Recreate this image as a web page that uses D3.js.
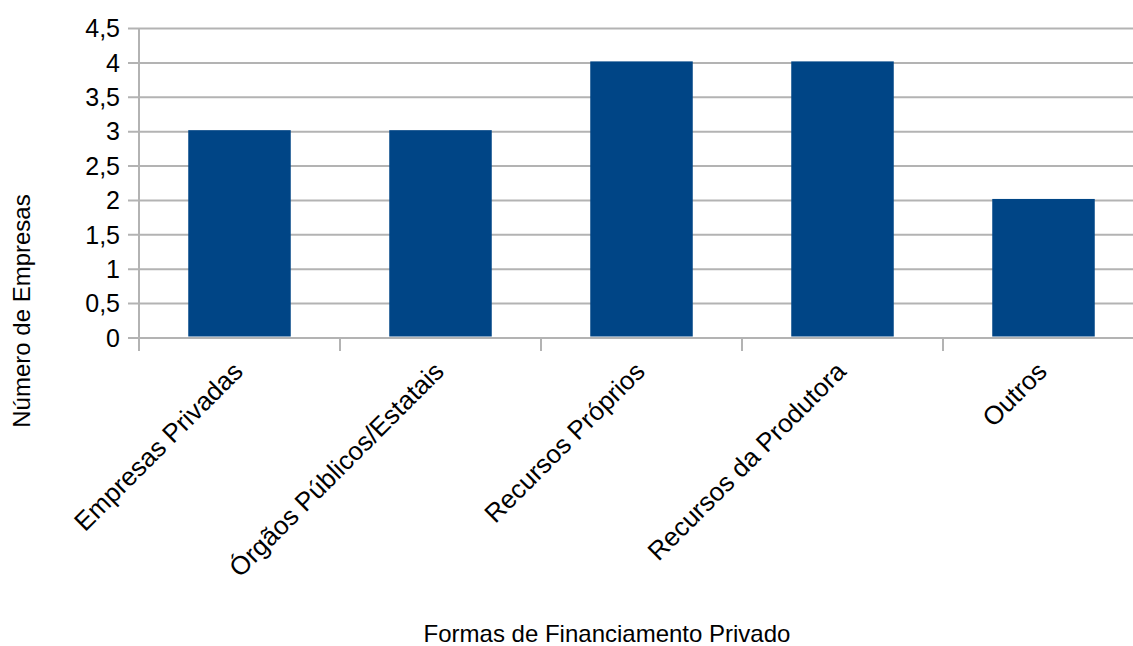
<!DOCTYPE html>
<html><head><meta charset="utf-8">
<script src="https://cdn.jsdelivr.net/npm/d3@7"></script>
<style>body{margin:0;background:#fff}svg{display:block}text{font-family:"Liberation Sans",Arial,sans-serif;fill:#000}</style>
</head><body><svg id="c" width="1133" height="646"></svg>
<script>
const categories = ["Empresas Privadas","Órgãos Públicos/Estatais","Recursos Próprios","Recursos da Produtora","Outros"];
const values = [3,3,4,4,2];
const yTicks = [0,0.5,1,1.5,2,2.5,3,3.5,4,4.5];
const yTitle = "Número de Empresas";
const xTitle = "Formas de Financiamento Privado";

const svg = d3.select("#c");
const L = 139, R = 1144, T = 28.5, B = 338;
const x = d3.scaleBand().domain(categories).range([L, R]).paddingInner(0.49).paddingOuter(0.245);
const y = d3.scaleLinear().domain([0, 4.5]).range([B, T]);
const grid = "#b3b3b3";
const fmt = v => String(v).replace(".", ",");

svg.append("g").selectAll("line").data(yTicks).join("line")
  .attr("x1", L - 11).attr("x2", 1133)
  .attr("y1", d => y(d)).attr("y2", d => y(d))
  .attr("stroke", grid).attr("stroke-width", 2);

svg.append("line").attr("x1", L).attr("x2", L).attr("y1", T).attr("y2", B + 13)
  .attr("stroke", grid).attr("stroke-width", 2);

const bounds = categories.map((c, i) => L + i * (R - L) / categories.length);
svg.append("g").selectAll("line").data(bounds.slice(1)).join("line")
  .attr("x1", d => d).attr("x2", d => d).attr("y1", B).attr("y2", B + 13)
  .attr("stroke", grid).attr("stroke-width", 2);

svg.append("g").selectAll("rect").data(values).join("rect")
  .attr("x", (d, i) => x(categories[i]))
  .attr("width", x.bandwidth())
  .attr("y", d => y(d) - 1.5)
  .attr("height", d => B - y(d))
  .attr("fill", "#004586");

svg.append("g").selectAll("text").data(yTicks).join("text")
  .attr("x", 120).attr("y", d => y(d)).attr("dy", "0.35em")
  .attr("text-anchor", "end").attr("font-size", 25).text(fmt);

svg.append("g").selectAll("text").data(categories).join("text")
  .attr("transform", d => `translate(${x(d) + x.bandwidth() / 2 + 5},${373}) rotate(-45)`)
  .attr("text-anchor", "end").attr("font-size", 26).text(d => d);

svg.append("text").attr("transform", "translate(30,311) rotate(-90)")
  .attr("text-anchor", "middle").attr("font-size", 24).text(yTitle);
svg.append("text").attr("x", 607).attr("y", 642)
  .attr("text-anchor", "middle").attr("font-size", 24).text(xTitle);
</script></body></html>
